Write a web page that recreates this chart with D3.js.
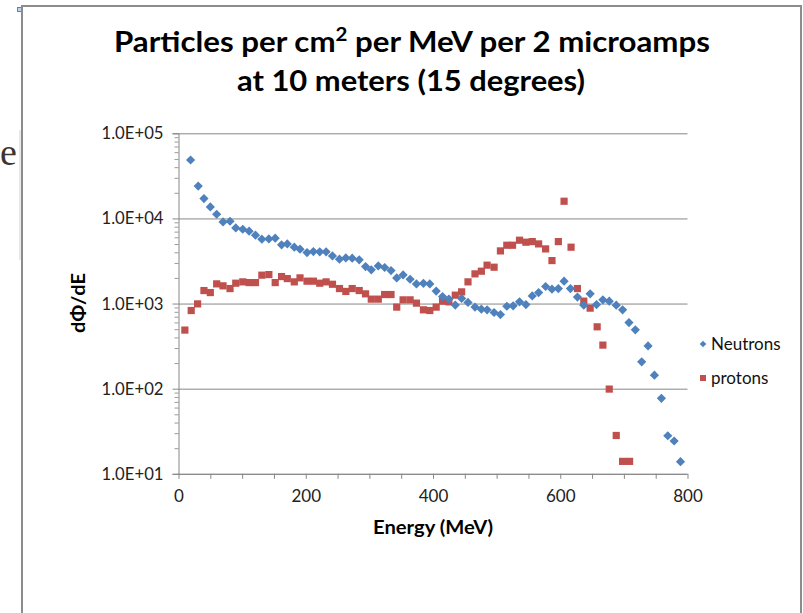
<!DOCTYPE html>
<html><head><meta charset="utf-8">
<script src="https://cdn.jsdelivr.net/npm/d3@7"></script>
<style>
body{margin:0;background:#fff;}
svg{display:block;font-family:Lato,"Open Sans",sans-serif;}
</style></head>
<body>
<svg id="chart" width="803" height="613"></svg>
<script>
// ---- data ----
const titleLines = ["Particles per cm", "2", " per MeV per 2 microamps", "at 10 meters (15 degrees)"];
const xLabel = "Energy (MeV)";
const yLabel = "dΦ/dE";
const seriesNames = ["Neutrons", "protons"];
const xTicks = [0, 200, 400, 600, 800];
const yTicks = [10, 100, 1000, 10000, 100000];
const yTickLabels = ["1.0E+01", "1.0E+02", "1.0E+03", "1.0E+04", "1.0E+05"];

const neutronE = [19,31,40,50,60,70,81,90,101,111,121,131,142,152,162,171,182,191,202,212,222,232,242,253,263,273,284,294,303,314,324,334,343,353,364,374,385,395,405,415,425,435,445,455,466,476,485,496,506,516,526,536,546,556,566,577,587,597,606,616,627,637,647,657,667,677,688,698,708,718,728,738,748,759,769,779,789];
const neutronFlux = [48600,24000,17100,13650,11200,9100,9270,7740,7460,7080,6350,5700,5740,5860,4890,5020,4590,4350,3970,4080,4050,4050,3630,3320,3440,3410,3260,2720,2490,2770,2650,2440,2000,2170,1930,1700,1730,1700,1400,1210,1130,960,1150,1030,910,860,845,785,743,930,940,1047,973,1230,1345,1585,1476,1500,1830,1500,1190,958,1300,973,1105,1067,958,843,598,491,207,318,144,77,28,24.3,13.9];

const protonE = [10,20,30,40,50,60,70,81,90,101,111,121,131,142,152,162,171,182,191,202,212,222,232,242,253,263,273,284,294,303,314,324,334,343,353,364,374,385,395,405,415,425,435,445,455,466,476,485,496,506,516,525,536,546,556,566,577,587,597,606,617,627,637,647,658,667,677,688,698,709];
const protonFlux = [488,828,991,1421,1346,1703,1614,1500,1734,1798,1763,1763,2155,2190,1763,2075,1965,1798,2003,1832,1832,1734,1798,1685,1500,1387,1500,1421,1300,1127,1127,1276,1276,908,1105,1105,1011,844,828,908,1067,1047,1255,1372,1798,2232,2400,2823,2673,4154,4843,4843,5548,5256,5343,5020,4385,3198,5343,15920,4592,1500,1067,883,533,325,98.9,28.2,14.0,14.0];

const colors = ["#4F81BD", "#C0504D"];

const svg = d3.select("#chart");

// ---- page decorations (slide frame) ----
svg.append("rect").attr("x",17.5).attr("y",7.5).attr("width",4).attr("height",4)
  .attr("fill","#bcd6f2").attr("stroke","#4f86c6").attr("stroke-width",1);
svg.append("path").attr("d","M22,613V6H801V613").attr("fill","none")
  .attr("stroke","#8c8c8c").attr("stroke-width",2);
svg.append("line").attr("x1",20).attr("x2",20).attr("y1",130).attr("y2",260)
  .attr("stroke","#e2e2e2").attr("stroke-width",1.5);
svg.append("text").attr("x",0).attr("y",165).attr("font-family","Liberation Serif, serif")
  .attr("font-size",38).attr("fill","#3a3530").text("e");

// ---- scales ----
const x = d3.scaleLinear().domain([0,800]).range([178.5,687.5]);
const y = d3.scaleLog().domain([10,100000]).range([473.8,133.3]);

// ---- title ----
const t1 = svg.append("text").attr("x",412).attr("y",52).attr("text-anchor","middle")
  .attr("font-size",29).attr("font-weight",700).attr("fill","#000")
  .attr("textLength",596).attr("lengthAdjust","spacingAndGlyphs");
t1.append("tspan").text(titleLines[0]);
t1.append("tspan").attr("font-size",19).attr("dy",-11).text(titleLines[1]);
t1.append("tspan").attr("dy",11).text(titleLines[2]);
svg.append("text").attr("x",411).attr("y",91).attr("text-anchor","middle")
  .attr("font-size",29).attr("font-weight",700).attr("fill","#000")
  .attr("textLength",348).attr("lengthAdjust","spacingAndGlyphs")
  .text(titleLines[3]);

// ---- gridlines ----
svg.append("g").attr("transform","translate(178.5,0)")
  .call(d3.axisRight(y).tickValues(yTicks).tickSize(509).tickFormat(""))
  .call(g=>g.select(".domain").remove())
  .call(g=>g.selectAll("line").attr("stroke","#878787").attr("stroke-width",1));

// ---- y axis ----
const minorVals = [];
for (let d=10; d<100000; d*=10) for (let k=2;k<=9;k++) minorVals.push(d*k);
svg.append("g").attr("transform","translate(178.5,0)")
  .call(d3.axisLeft(y).tickValues(minorVals).tickSize(4).tickFormat(""))
  .call(g=>g.select(".domain").remove())
  .call(g=>g.selectAll("line").attr("stroke","#9a9a9a"));
const ya = svg.append("g").attr("transform","translate(178.5,0)")
  .call(d3.axisLeft(y).tickValues(yTicks).tickSize(6).tickPadding(9)
    .tickFormat((d,i)=>yTickLabels[i]));
ya.select(".domain").attr("stroke","#878787");
ya.selectAll("line").attr("stroke","#878787");
ya.selectAll("text").attr("font-family","Lato, sans-serif").attr("font-size",17)
  .attr("fill","#222").attr("textLength",62).attr("lengthAdjust","spacingAndGlyphs");

// ---- x axis ----
const xa = svg.append("g").attr("transform","translate(0,473.8)")
  .call(d3.axisBottom(x).tickValues(d3.range(0,801,50)).tickSize(5).tickPadding(11)
    .tickFormat(d=>xTicks.includes(d)?String(d):""));
xa.select(".domain").attr("stroke","#878787").attr("d","M178.5,0.5H687.5");
xa.selectAll("line").attr("stroke","#878787");
xa.selectAll("text").attr("font-family","Lato, sans-serif").attr("font-size",17).attr("fill","#222");

// ---- axis titles ----
svg.append("text").attr("x",433).attr("y",534).attr("text-anchor","middle")
  .attr("font-size",18).attr("font-weight",700).attr("fill","#000")
  .attr("textLength",120).attr("lengthAdjust","spacingAndGlyphs").text(xLabel);
svg.append("text").attr("transform","translate(85,303) rotate(-90)").attr("text-anchor","middle")
  .attr("font-size",19).attr("font-weight",700).attr("fill","#000")
  .attr("textLength",60).attr("lengthAdjust","spacingAndGlyphs").text(yLabel);

// ---- markers ----
const diamond = s => `M0,${-s}L${s},0L0,${s}L${-s},0Z`;
const square = s => `M${-s},${-s}H${s}V${s}H${-s}Z`;

const neutrons = neutronE.map((e,i)=>({e, v:neutronFlux[i]}));
const protons = protonE.map((e,i)=>({e, v:protonFlux[i]}));

svg.append("g").selectAll("path").data(protons).join("path")
  .attr("transform",d=>`translate(${x(d.e)},${y(d.v)})`)
  .attr("d",square(3.6)).attr("fill",colors[1]);
svg.append("g").selectAll("path").data(neutrons).join("path")
  .attr("transform",d=>`translate(${x(d.e)},${y(d.v)})`)
  .attr("d",diamond(4.6)).attr("fill",colors[0]);

// ---- legend ----
const legY = [344, 378];
const lg = svg.append("g");
lg.append("path").attr("transform",`translate(703,${legY[0]})`).attr("d",diamond(3.3)).attr("fill",colors[0]);
lg.append("path").attr("transform",`translate(703,${legY[1]})`).attr("d",square(3)).attr("fill",colors[1]);
seriesNames.forEach((n,i)=>{
  lg.append("text").attr("x",711).attr("y",legY[i]+6).attr("font-size",17)
    .attr("fill","#111").text(n);
});
</script>
</body></html>
